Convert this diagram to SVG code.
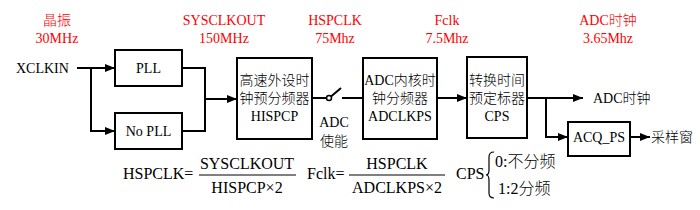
<svg xmlns="http://www.w3.org/2000/svg" width="700" height="210" viewBox="0 0 700 210">
<style>
text{font-family:"Liberation Serif","Noto Sans CJK SC",serif;font-size:14px;font-weight:300;fill:#000}
.red{fill:#ff0000}
.c{text-anchor:middle}
.f{font-size:16px}
.box{fill:#fff;stroke:#000;stroke-width:2}
.ln{fill:none;stroke:#000;stroke-width:2}
</style>
<defs>
<marker id="ah" viewBox="0 0 10 8" refX="10" refY="4" markerWidth="10" markerHeight="8" markerUnits="userSpaceOnUse" orient="auto">
<path d="M0,0 L10,4 L0,8 Z" fill="#000"/>
</marker>
</defs>
<rect width="700" height="210" fill="#fff"/>
<g id="labels">
<text class="red c" x="57" y="25">晶振</text>
<text class="red c" x="57" y="43">30MHz</text>
<text class="red c" x="224" y="25">SYSCLKOUT</text>
<text class="red c" x="224" y="43">150MHz</text>
<text class="red c" x="335" y="25">HSPCLK</text>
<text class="red c" x="447" y="25">Fclk</text>
<text class="red c" x="447" y="43">7.5Mhz</text>
<text class="red c" x="335" y="43">75Mhz</text>
<text class="red c" x="608" y="25">ADC时钟</text>
<text class="red c" x="608" y="43">3.65Mhz</text>
<text x="16" y="73">XCLKIN</text>
<text class="c" x="334" y="127">ADC</text>
<text class="c" x="334" y="146">使能</text>
<text x="593" y="103">ADC时钟</text>
<text x="651" y="142">采样窗</text>
</g>
<g id="connectors">
<path class="ln" d="M77,68 H115" marker-end="url(#ah)"/>
<path class="ln" d="M91,68 V131 H115" marker-end="url(#ah)"/>
<path class="ln" d="M182,68 H205 V131 H182"/>
<path class="ln" d="M205,99 H237" marker-end="url(#ah)"/>
<path class="ln" d="M312,98 H326.5"/>
<circle cx="329" cy="98" r="2.5" fill="#fff" stroke="#000" stroke-width="1.5"/>
<path class="ln" d="M331,96.5 L341,88"/>
<path class="ln" d="M342,98 H363"/>
<path class="ln" d="M437,98 H467" marker-end="url(#ah)"/>
<path class="ln" d="M527,98 H583" marker-end="url(#ah)"/>
<path class="ln" d="M546,98 V137 H568" marker-end="url(#ah)"/>
<path class="ln" d="M630,137 H650" marker-end="url(#ah)"/>
</g>
<g id="pll">
<rect class="box" x="115" y="50" width="67" height="36"/>
<text class="c" x="148.5" y="73">PLL</text>
</g>
<g id="nopll">
<rect class="box" x="115" y="113" width="67" height="36"/>
<text class="c" x="148.5" y="136">No PLL</text>
</g>
<g id="hispcp">
<rect class="box" x="237" y="58" width="75" height="81"/>
<text class="c" x="274.5" y="85" font-size="13">高速外设时</text>
<text class="c" x="274.5" y="103" font-size="13">钟预分频器</text>
<text class="c" x="274.5" y="121">HISPCP</text>
</g>
<g id="adclkps">
<rect class="box" x="363" y="58" width="74" height="81"/>
<text class="c" x="400" y="85">ADC内核时</text>
<text class="c" x="400" y="103" font-size="13">钟分频器</text>
<text class="c" x="400" y="121">ADCLKPS</text>
</g>
<g id="cps">
<rect class="box" x="467" y="57" width="60" height="81"/>
<text class="c" x="497" y="85" font-size="13">转换时间</text>
<text class="c" x="497" y="103" font-size="13">预定标器</text>
<text class="c" x="497" y="121">CPS</text>
</g>
<g id="acqps">
<rect class="box" x="568" y="122" width="62" height="34"/>
<text class="c" x="599" y="142">ACQ_PS</text>
</g>
<g id="formula">
<text class="f" x="123" y="179">HSPCLK=</text>
<text class="f c" x="247" y="169">SYSCLKOUT</text>
<line x1="199" y1="175" x2="296" y2="175" stroke="#000" stroke-width="1"/>
<text class="f c" x="247" y="193">HISPCP×2</text>
<text class="f" x="307" y="179">Fclk=</text>
<text class="f c" x="397" y="169">HSPCLK</text>
<line x1="349" y1="175" x2="445" y2="175" stroke="#000" stroke-width="1"/>
<text class="f c" x="397" y="193">ADCLKPS×2</text>
<text class="f" x="456" y="179">CPS</text>
<path d="M494,152 Q489,152 489,157 V170 Q489,175 486,175 Q489,175 489,180 V193 Q489,198 494,198" fill="none" stroke="#000" stroke-width="1.2"/>
<text class="f" x="495" y="167">0:不分频</text>
<text class="f" x="498" y="194">1:2分频</text>
</g>
</svg>
